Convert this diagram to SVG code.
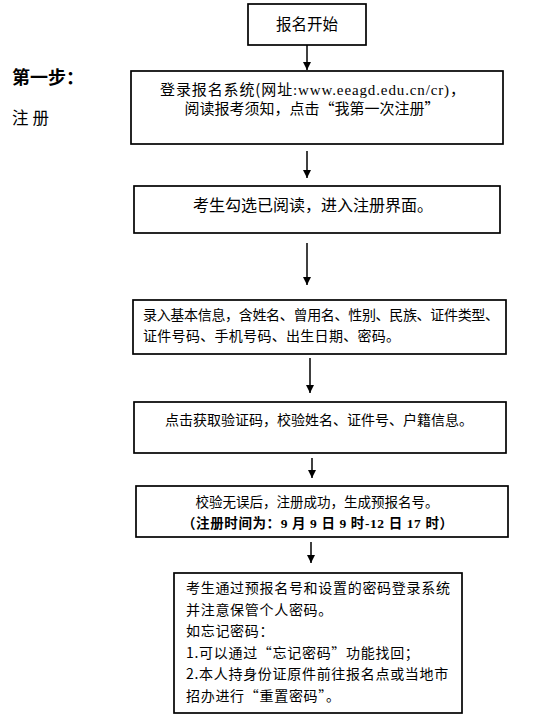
<svg xmlns="http://www.w3.org/2000/svg" width="536" height="724" viewBox="0 0 536 724">
<style>
.box{fill:#fff;stroke:#000;stroke-width:1.7}
.t{font-family:"Noto Sans CJK SC","Liberation Serif",serif;font-size:14px;fill:#000}
.c{text-anchor:middle}
.lat{font-family:"Liberation Serif","Noto Sans CJK SC",serif}
.b{font-weight:bold}
.conn{stroke:#000;stroke-width:1.5;fill:none;marker-end:url(#arr)}
</style>
<defs>
<marker id="arr" viewBox="0 0 10 10" refX="10" refY="5" markerWidth="8" markerHeight="9" markerUnits="userSpaceOnUse" orient="auto">
<path d="M0,0 L10,5 L0,10 z" fill="#000"/>
</marker>
</defs>
<rect width="536" height="724" fill="#fff"/>
<g id="step-label">
<text class="t b" x="12" y="84" style="font-size:18px">第一步：</text>
<text class="t" x="12" y="124" style="font-size:16.5px;letter-spacing:4px">注册</text>
</g>
<g id="connectors">
<line class="conn" x1="307" y1="45" x2="307" y2="70"/>
<line class="conn" x1="307" y1="151" x2="307" y2="178"/>
<line class="conn" x1="307" y1="243" x2="307" y2="285"/>
<line class="conn" x1="310" y1="358" x2="310" y2="393"/>
<line class="conn" x1="312" y1="458" x2="312" y2="478"/>
<line class="conn" x1="311" y1="542" x2="311" y2="563"/>
</g>
<g id="n1">
<rect class="box" x="248" y="4" width="118" height="41"/>
<text class="t c" x="307" y="30" style="font-size:15.5px">报名开始</text>
</g>
<g id="n2">
<rect class="box" x="131" y="71" width="372" height="73"/>
<text class="t" x="160" y="95" style="font-size:15px" textLength="305" lengthAdjust="spacing">登录报名系统(网址<tspan class="lat">:www.eeagd.edu.cn/cr)</tspan>，</text>
<text class="t c" x="312" y="114" style="font-size:15px">阅读报考须知，点击“我第一次注册”</text>
</g>
<g id="n3">
<rect class="box" x="134" y="186" width="366" height="47"/>
<text class="t c" x="313" y="211" style="font-size:16px">考生勾选已阅读，进入注册界面。</text>
</g>
<g id="n4">
<rect class="box" x="133" y="300" width="373" height="54"/>
<text class="t" x="143" y="320" textLength="356" lengthAdjust="spacing">录入基本信息，含姓名、曾用名、性别、民族、证件类型、</text>
<text class="t" x="143" y="341" style="letter-spacing:0.3px">证件号码、手机号码、出生日期、密码。</text>
</g>
<g id="n5">
<rect class="box" x="134" y="402" width="372" height="51"/>
<text class="t c" x="319" y="425">点击获取验证码，校验姓名、证件号、户籍信息。</text>
</g>
<g id="n6">
<rect class="box" x="136" y="486" width="372" height="51"/>
<text class="t c" x="317" y="507" style="font-size:13.5px">校验无误后，注册成功，生成预报名号。</text>
<text class="t b" x="182" y="528" textLength="271" lengthAdjust="spacing" style="font-size:13.5px">（注册时间为：<tspan class="lat">9 </tspan>月<tspan class="lat"> 9 </tspan>日<tspan class="lat"> 9 </tspan>时<tspan class="lat">-12 </tspan>日<tspan class="lat"> 17 </tspan>时）</text>
</g>
<g id="n7">
<rect class="box" x="174" y="573" width="288" height="140"/>
<g class="t" style="letter-spacing:0.7px">
<text x="186" y="593">考生通过预报名号和设置的密码登录系统</text>
<text x="186" y="614.5">并注意保管个人密码。</text>
<text x="186" y="636">如忘记密码：</text>
<text x="186" y="657.5">1.可以通过“忘记密码”功能找回；</text>
<text x="186" y="679">2.本人持身份证原件前往报名点或当地市</text>
<text x="186" y="700.5">招办进行“重置密码”。</text>
</g>
</g>
</svg>
